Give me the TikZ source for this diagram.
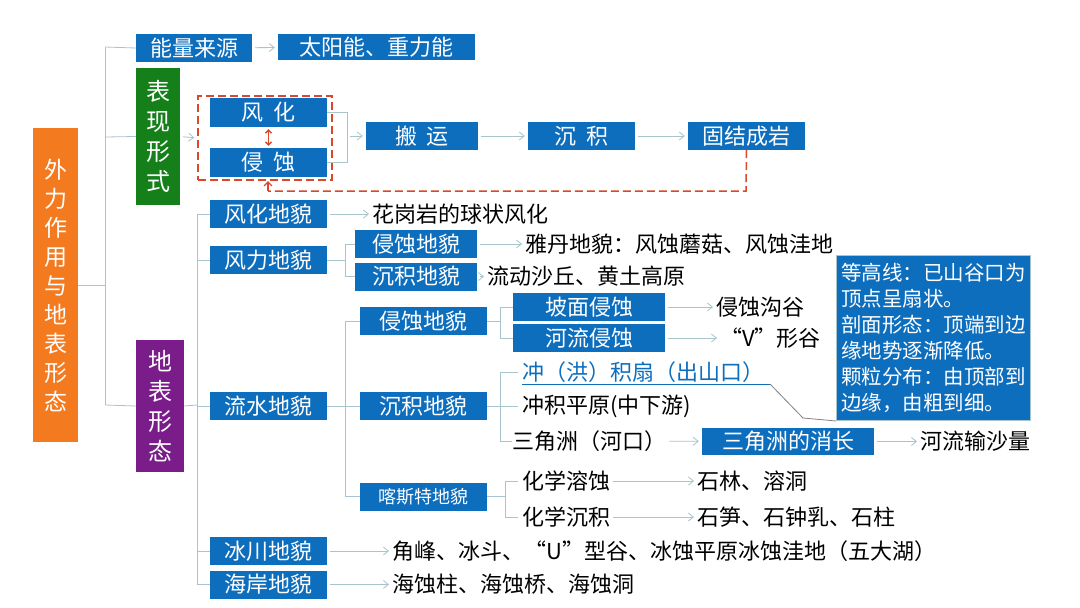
\documentclass[tikz,border=0pt]{standalone}
\usepackage{fontspec}
\setmainfont{Noto Sans CJK SC}
\usetikzlibrary{arrows.meta,calc}
\definecolor{bx}{HTML}{0E6EBE}
\definecolor{ln}{HTML}{A8C4CC}
\definecolor{og}{HTML}{F47A20}
\definecolor{gr}{HTML}{15801A}
\definecolor{pu}{HTML}{7A1D8A}
\definecolor{rd}{HTML}{D9482B}
\begin{document}
\begin{tikzpicture}[x=1pt,y=-1pt,
 bbox/.style={fill=bx,text=white,font=\fontsize{22}{22}\selectfont,minimum height=28pt,inner sep=0pt},
 tx/.style={anchor=west,inner sep=0pt,font=\fontsize{22}{22}\selectfont},
 ar/.style={draw=ln,line width=0.8pt,-{Straight Barb[length=5pt,width=8pt]},shorten <=3pt,shorten >=3pt},
 li/.style={draw=ln,line width=0.8pt},
 vbox/.style={text=white,font=\fontsize{24}{30}\selectfont,align=center,inner sep=0pt}]
\useasboundingbox (0,0) rectangle (1080,608);
\fill[white] (0,0) rectangle (1080,608);
% main orange
\node[vbox,fill=og,minimum width=45pt,minimum height=314pt,font=\fontsize{23}{29}\selectfont] (main) at (55.5,285) {外\\力\\作\\用\\与\\地\\表\\形\\态};
\coordinate (t1a) at (105,47); \coordinate (t1b) at (105,405);
\draw[li] (main.east) -- (105,285);
\draw[li] (t1a) -- (t1b);
% energy
\node[bbox,minimum width=116pt] (ny) at (194,48) {能量来源};
\node[bbox,minimum width=197pt,minimum height=26pt] (tyn) at (376.5,47) {太阳能、重力能};
\draw[li] (t1a) -- (ny.west);
\draw[ar] (ny) -- (tyn);
% forms
\node[vbox,fill=gr,minimum width=44pt,minimum height=137pt] (bx) at (158,136.5) {表\\现\\形\\式};
\draw[li] (105,137) -- (bx.west);
\node[bbox,minimum width=117pt,minimum height=29pt] (fh) at (268.5,112.5) {风\ \ 化};
\node[bbox,minimum width=117pt,minimum height=29pt] (qs) at (268.5,162.5) {侵\ \ 蚀};
\node[draw=rd,dashed,line width=1.5pt,dash pattern=on 8pt off 4pt,minimum width=134pt,minimum height=84pt,inner sep=0pt] (dash) at (265,138) {};
\draw[ar] (bx.east) -- (dash.west);
\draw[rd,line width=1.3pt,{Straight Barb[length=3pt]}-{Straight Barb[length=3pt]}] ($(fh.south)+(0,2)$) -- ($(qs.north)+(0,-2)$);
\node[bbox,minimum width=112pt] (by) at (422,136) {搬\ \ 运};
\node[bbox,minimum width=107pt] (cj) at (581.5,136) {沉\ \ 积};
\node[bbox,minimum width=117pt] (gj) at (746.5,136) {固结成岩};
\draw[li] (fh.east) -- (347,112.5) -- (347,162.5) -- (qs.east);
\draw[ar] (347,136) -- (by.west);
\draw[ar] (by) -- (cj);
\draw[ar] (cj) -- (gj);
\draw[rd,line width=1.5pt,dash pattern=on 8pt off 4pt] (gj.south) -- (746,191) -- (268,191);
\draw[rd,line width=1.3pt,-{Straight Barb[length=4pt]}] (268,191) -- (268,181);
% surface forms
\node[vbox,fill=pu,minimum width=48pt,minimum height=132pt] (dx) at (160,406) {地\\表\\形\\态};
\draw[li] (t1b) -- (dx.west);
\draw[li] (dx.east) -- (197,405);
\draw[li] (197,214) -- (197,584);
\node[bbox,minimum width=117pt] (fhd) at (268.5,214) {风化地貌};
\node[bbox,minimum width=117pt] (fld) at (268.5,260) {风力地貌};
\node[bbox,minimum width=117pt] (lsd) at (268.5,406) {流水地貌};
\node[bbox,minimum width=117pt] (bcd) at (268.5,551) {冰川地貌};
\node[bbox,minimum width=117pt] (had) at (268.5,584.5) {海岸地貌};
\foreach \n in {fhd,fld,lsd,bcd,had}{\draw[li] (\n.west) -- ++(-13,0);}
\node[tx] (hgy) at (372,214) {花岗岩的球状风化};
\draw[ar] (fhd) -- (hgy);
% wind
\node[bbox,minimum width=122pt] (fqs) at (416,244) {侵蚀地貌};
\node[bbox,minimum width=122pt] (fcj) at (416,276.5) {沉积地貌};
\draw[li] (fld.east) -- (345,260);
\draw[li] (fqs.west) -- (345,244) -- (345,276.5) -- (fcj.west);
\node[tx] (yd) at (525,244) {雅丹地貌：风蚀蘑菇、风蚀洼地};
\node[tx] (ld) at (487,276.5) {流动沙丘、黄土高原};
\draw[ar] (fqs) -- (yd);
\draw[ar] (fcj) -- (ld);
% water
\node[bbox,minimum width=127pt] (sqs) at (423.5,321) {侵蚀地貌};
\node[bbox,minimum width=127pt] (scj) at (423.5,406) {沉积地貌};
\node[bbox,minimum width=127pt,font=\fontsize{18}{18}\selectfont] (kst) at (423.5,496.5) {喀斯特地貌};
\draw[li] (lsd.east) -- (345,406);
\draw[li] (sqs.west) -- (345,321) -- (345,496.5) -- (kst.west);
\draw[li] (345,406) -- (scj.west);
\node[bbox,minimum width=152pt] (pm) at (589,307) {坡面侵蚀};
\node[bbox,minimum width=152pt] (hl) at (589,338) {河流侵蚀};
\draw[li] (sqs.east) -- (500,321);
\draw[li] (pm.west) -- (500,307) -- (500,338) -- (hl.west);
\node[tx] (qsg) at (716,307) {侵蚀沟谷};
\node[tx] (vx) at (720,338) {“V”形谷};
\draw[ar] (pm) -- (qsg);
\draw[ar] (hl) -- (vx);
\node[tx,text=bx] (cjs) at (522,372) {冲（洪）积扇（出山口）};
\coordinate (ul) at (770,384);
\draw[bx,line width=0.8pt] (522,384) -- (ul);
\node[tx] (cjp) at (522,406) {冲积平原(中下游)};
\node[tx] (sjz) at (512,441) {三角洲（河口）};
\draw[li] (scj.east) -- (500,406);
\draw[li] ($(cjs.west)+(-4,0)$) -- (500,372) -- (500,441) -- (sjz.west);
\draw[li] (500,406) -- ($(cjp.west)+(-4,0)$);
\node[bbox,minimum width=172pt,minimum height=27pt] (sjx) at (788,441.5) {三角洲的消长};
\draw[ar] (sjz) -- (sjx);
\node[tx] (sl) at (920,441.5) {河流输沙量};
\draw[ar] (sjx) -- (sl);
% callout
\node[fill=bx,draw=ln,line width=1pt,text=white,align=left,anchor=north west,minimum width=194pt,minimum height=165pt,inner sep=4pt,font=\fontsize{20.5}{26}\selectfont] (co) at (836,255) {等高线：已山谷口为\\顶点呈扇状。\\剖面形态：顶端到边\\缘地势逐渐降低。\\颗粒分布：由顶部到\\边缘，由粗到细。};
\draw[gray,line width=0.8pt] (ul) -- (803,418) -- (co.south west);
% karst
\node[tx] (hxr) at (522,481) {化学溶蚀};
\node[tx] (hxc) at (522,517) {化学沉积};
\draw[li] (kst.east) -- (505,496.5);
\draw[li] ($(hxr.west)+(-4,0)$) -- (505,481) -- (505,517) -- ($(hxc.west)+(-4,0)$);
\node[tx] (sl2) at (697,481) {石林、溶洞};
\node[tx] (ss) at (697,517) {石笋、石钟乳、石柱};
\draw[ar] (hxr) -- (sl2);
\draw[ar] (hxc) -- (ss);
% glacier coast
\node[tx] (jf) at (392,551) {角峰、冰斗、“U”型谷、冰蚀平原冰蚀洼地（五大湖）};
\node[tx] (hz) at (392,584.5) {海蚀柱、海蚀桥、海蚀洞};
\draw[ar] (bcd) -- (jf);
\draw[ar] (had) -- (hz);
\end{tikzpicture}
\end{document}
